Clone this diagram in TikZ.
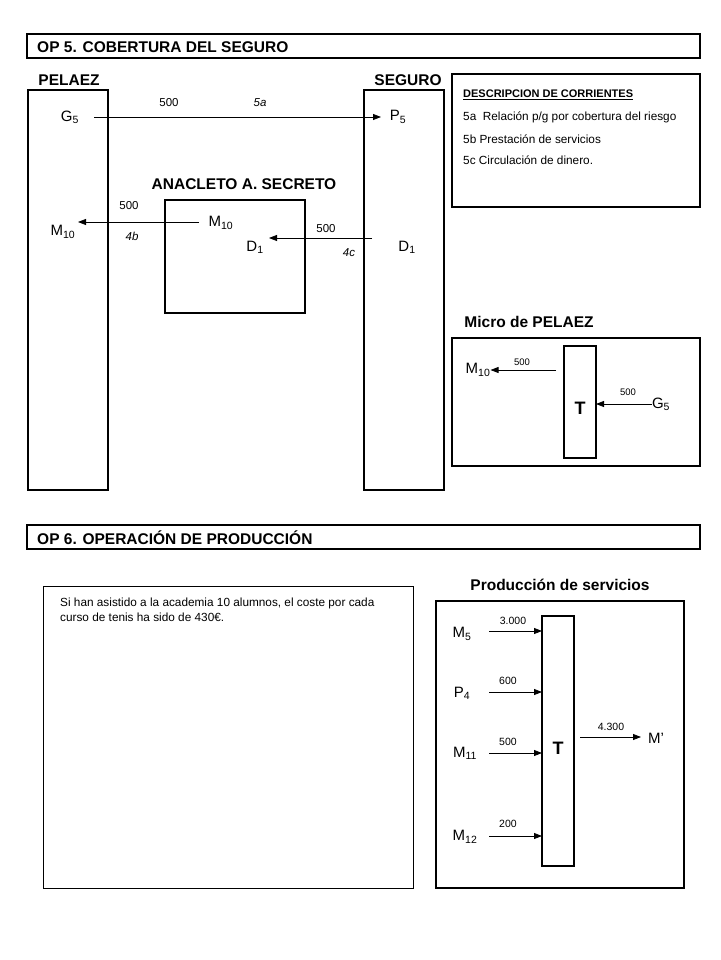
\documentclass[tikz,border=0pt]{standalone}
\usepackage{fontspec}
\setmainfont{Liberation Sans}
\usetikzlibrary{arrows.meta}
\begin{document}
\begin{tikzpicture}[x=1pt,y=-1pt,
  bigbox/.style={draw, line width=2pt, inner sep=0pt, outer sep=0pt, anchor=north west},
  thinbox/.style={draw, line width=1pt, inner sep=0pt, outer sep=0pt, anchor=north west},
  hd/.style={font=\fontsize{15.5}{18}\selectfont\bfseries, inner sep=0pt},
  lbl/.style={font=\fontsize{15}{17}\selectfont, inner sep=0pt},
  num/.style={font=\fontsize{11.5}{13}\selectfont, inner sep=0pt},
  tiny/.style={font=\fontsize{9.5}{11}\selectfont, inner sep=0pt},
  desc/.style={font=\fontsize{11.8}{13}\selectfont, inner sep=0pt, anchor=west},
  flow/.style={line width=0.8pt, -{Triangle[length=8pt,width=6pt]}}
]
\useasboundingbox (0,0) rectangle (720,960);

% ---------------- OP 5 ----------------
\node[bigbox, minimum width=673, minimum height=24] (h5) at (27,34) {};
\node[hd, anchor=west] (h5t) at (37,47) {OP 5. COBERTURA DEL SEGURO};

\node[hd] (pelt) at (69,80) {PELAEZ};
\node[bigbox, minimum width=80, minimum height=400] (pel) at (28,90) {};
\node[hd] (segt) at (408,80) {SEGURO};
\node[bigbox, minimum width=80, minimum height=400] (seg) at (364,90) {};

\node[lbl] (g5) at (70,117) {G\textsubscript{5}};
\node[lbl] (p5) at (398,117) {P\textsubscript{5}};
\coordinate (g5s) at (94,117);
\coordinate (p5e) at (381,117);
\draw[flow] (g5s) -- (p5e);
\node[num] (n5a) at (169,103) {500};
\node[num, font=\fontsize{11.5}{13}\selectfont\itshape] (l5a) at (260,103) {5a};

% description box
\node[bigbox, minimum width=248, minimum height=133] (db) at (452,74) {};
\node[desc, font=\fontsize{11}{13}\selectfont\bfseries] (d0) at (463,95) {\underline{DESCRIPCION DE CORRIENTES}};
\node[desc] (d1) at (463,117) {5a\ \ Relación p/g por cobertura del riesgo};
\node[desc] (d2) at (463,139) {5b Prestación de servicios};
\node[desc] (d3) at (463,160) {5c Circulación de dinero.};

% Anacleto
\node[hd] (anat) at (244,184) {ANACLETO A. SECRETO};
\node[bigbox, minimum width=140, minimum height=113] (ana) at (165,200) {};
\node[lbl] (m10i) at (221,223) {M\textsubscript{10}};
\node[lbl] (m10o) at (63,232) {M\textsubscript{10}};
\coordinate (m10s) at (199,222);
\coordinate (m10e) at (78,222);
\draw[flow] (m10s) -- (m10e);
\node[num] (n4b) at (129,206) {500};
\node[num, font=\fontsize{11.5}{13}\selectfont\itshape] (l4b) at (132,236) {4b};

\node[lbl] (d1i) at (255,247) {D\textsubscript{1}};
\node[lbl] (d1o) at (407,247) {D\textsubscript{1}};
\coordinate (d1s) at (372,238);
\coordinate (d1e) at (269,238);
\draw[flow] (d1s) -- (d1e);
\node[num] (n4c) at (326,229) {500};
\node[num, font=\fontsize{11.5}{13}\selectfont\itshape] (l4c) at (349,253) {4c};

% Micro de PELAEZ
\node[hd] (mict) at (529,322) {Micro de PELAEZ};
\node[bigbox, minimum width=248, minimum height=128] (mic) at (452,338) {};
\node[bigbox, minimum width=32, minimum height=112] (mT) at (564,346) {};
\node[font=\fontsize{18}{20}\selectfont\bfseries, inner sep=0pt] (mTt) at (580,408) {T};
\node[lbl] (mm10) at (478,370) {M\textsubscript{10}};
\coordinate (mm10s) at (556,370);
\draw[flow] (mm10s) -- (mm10.east);
\node[tiny] (mn1) at (522,362) {500};
\node[lbl] (mg5) at (661,404) {G\textsubscript{5}};
\draw[flow] (mg5.west) -- (mT.east |- mg5.west);
\node[tiny] (mn2) at (628,392) {500};

% ---------------- OP 6 ----------------
\node[bigbox, minimum width=673, minimum height=24] (h6) at (27,525) {};
\node[hd, anchor=west] (h6t) at (37,538) {OP 6. OPERACIÓN DE PRODUCCIÓN};

\node[thinbox, minimum width=370, minimum height=302] (tb) at (43,586) {};
\node[font=\fontsize{11.8}{14.5}\selectfont, inner sep=0pt, anchor=north west, align=left] (tbt) at (60,598)
  {Si han asistido a la academia 10 alumnos, el coste por cada\\curso de tenis ha sido de 430€.};

\node[hd] (prt) at (560,585) {Producción de servicios};
\node[bigbox, minimum width=248, minimum height=287] (pb) at (436,601) {};
\node[bigbox, minimum width=32, minimum height=250] (pT) at (542,616) {};
\node[font=\fontsize{18}{20}\selectfont\bfseries, inner sep=0pt] (pTt) at (558,748) {T};

\node[lbl] (m5) at (462,634) {M\textsubscript{5}};
\node[lbl] (p4) at (462,693) {P\textsubscript{4}};
\node[lbl] (m11) at (465,753) {M\textsubscript{11}};
\node[lbl] (m12) at (465,837) {M\textsubscript{12}};
\coordinate (a1) at (489,631);
\coordinate (a2) at (489,692);
\coordinate (a3) at (489,753);
\coordinate (a4) at (489,836);
\draw[flow] (a1) -- (pT.west |- a1);
\draw[flow] (a2) -- (pT.west |- a2);
\draw[flow] (a3) -- (pT.west |- a3);
\draw[flow] (a4) -- (pT.west |- a4);
\node[num, font=\fontsize{10.5}{12}\selectfont] (v1) at (513,621) {3.000};
\node[num, font=\fontsize{10.5}{12}\selectfont] (v2) at (508,681) {600};
\node[num, font=\fontsize{10.5}{12}\selectfont] (v3) at (508,742) {500};
\node[num, font=\fontsize{10.5}{12}\selectfont] (v4) at (508,824) {200};

\node[lbl] (mp) at (656,738) {M’};
\coordinate (os) at (580,737);
\coordinate (oe) at (641,737);
\draw[flow] (os) -- (oe);
\node[num, font=\fontsize{10.5}{12}\selectfont] (v5) at (611,727) {4.300};
\end{tikzpicture}
\end{document}
